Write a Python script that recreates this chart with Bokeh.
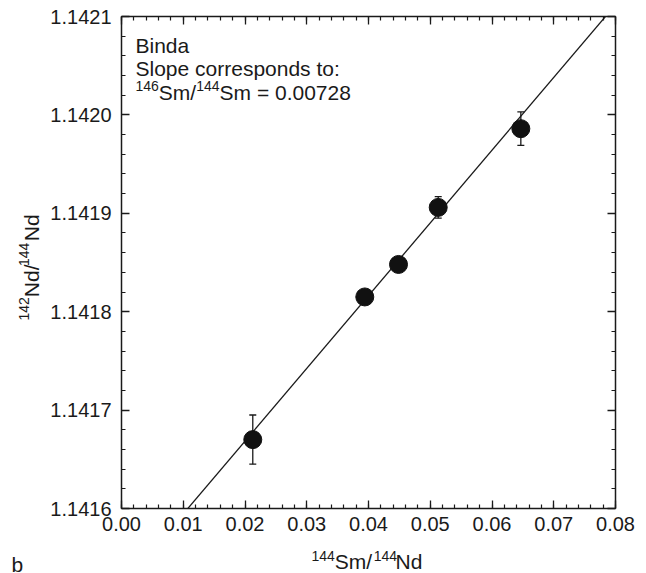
import math
from bokeh.plotting import figure
from bokeh.models import (Range1d, FixedTicker, PrintfTickFormatter, LinearAxis, Label,
                          Whisker, ColumnDataSource, TeeHead, CustomJSTickFormatter)
from bokeh.embed import file_html
from bokeh.resources import INLINE

# ---- data ----
sm_nd = [0.02126, 0.03940, 0.04486, 0.05129, 0.06467]          # 144Sm/144Nd
nd_nd = [1.141670, 1.141815, 1.141848, 1.141906, 1.141986]     # 142Nd/144Nd
nd_err = [0.000025, 0.000007, 0.000006, 0.000011, 0.000017]
fit_slope = 0.007392
fit_intercept = 1.1415206
x_ticks = [0.00, 0.01, 0.02, 0.03, 0.04, 0.05, 0.06, 0.07, 0.08]
y_ticks = [1.1416, 1.1417, 1.1418, 1.1419, 1.1420, 1.1421]

FONT = "Liberation Sans"
INK = "#1a1a1a"
NB = "\u00a0"

x_minor = [round(x_ticks[0] + i * 0.002, 4) for i in range(41)]
y_minor = [round(y_ticks[0] + i * 0.00002, 6) for i in range(26)]

p = figure(width=646, height=573, output_backend="svg", toolbar_location=None,
           x_range=Range1d(x_ticks[0], x_ticks[-1]), y_range=Range1d(y_ticks[0], y_ticks[-1]),
           x_axis_location=None, y_axis_location=None,
           min_border_left=121, min_border_right=31, min_border_top=15, min_border_bottom=65)
p.grid.visible = False
p.outline_line_color = None
p.background_fill_color = "white"
p.border_fill_color = "white"

def make_axis(is_x, labelled):
    ax = LinearAxis()
    ax.ticker = FixedTicker(ticks=x_ticks if is_x else y_ticks,
                            minor_ticks=x_minor if is_x else y_minor)
    ax.major_tick_in = 8
    ax.major_tick_out = 0
    ax.minor_tick_in = 4
    ax.minor_tick_out = 0
    ax.axis_line_color = INK
    ax.axis_line_width = 1.5
    ax.major_tick_line_color = INK
    ax.major_tick_line_width = 1.3
    ax.minor_tick_line_color = INK
    ax.minor_tick_line_width = 1.2
    if labelled:
        ax.formatter = PrintfTickFormatter(format="%.2f" if is_x else "%.4f")
        ax.major_label_text_font = FONT
        ax.major_label_text_font_size = "20px"
        ax.major_label_text_color = INK
        ax.major_label_standoff = 8 if is_x else 10
    else:
        ax.formatter = CustomJSTickFormatter(code="return ''")
        ax.major_label_text_font_size = "0px"
        ax.major_label_text_color = None
        ax.major_label_standoff = 0
    return ax

p.add_layout(make_axis(True, True), "below")
p.add_layout(make_axis(False, True), "left")
p.add_layout(make_axis(True, False), "above")
p.add_layout(make_axis(False, False), "right")

# regression line
fx = [x_ticks[0], x_ticks[-1]]
fy = [fit_intercept + fit_slope * v for v in fx]
p.line(fx, fy, line_color=INK, line_width=1.3)

# error bars
src = ColumnDataSource(dict(x=sm_nd, y=nd_nd,
                            lo=[a - b for a, b in zip(nd_nd, nd_err)],
                            hi=[a + b for a, b in zip(nd_nd, nd_err)]))
w = Whisker(base="x", lower="lo", upper="hi", source=src, dimension="height",
            line_color=INK, line_width=1.3,
            upper_head=TeeHead(size=7, line_color=INK, line_width=1.3),
            lower_head=TeeHead(size=7, line_color=INK, line_width=1.3))
p.add_layout(w)

p.scatter("x", "y", source=src, size=18, fill_color="#111111", line_color="#111111")

# ---- text helpers ----
W = {"0": .556, "1": .556, "2": .556, "3": .556, "4": .556, "5": .556, "6": .556,
     "7": .556, "8": .556, "9": .556, ".": .278, "S": .667, "m": .833, "/": .278,
     "N": .722, "d": .556, " ": .278, "=": .584, NB: .278}

def tw(s, size):
    return sum(W.get(c, .556) for c in s) * size

def lab(x, y, txt, size, angle=0.0, place=None):
    l = Label(x=x, y=y, x_units="screen", y_units="screen", text=txt,
              text_font=FONT, text_font_size=f"{size}px", text_color=INK,
              text_baseline="alphabetic", text_align="left", angle=angle)
    if place:
        p.add_layout(l, place)
    else:
        p.add_layout(l)

def rich(segs, x0, y0, size, sup_size, rise):
    pos = 0.0
    for txt, sup in segs:
        fs = sup_size if sup else size
        lab(x0 + pos, y0 + (rise if sup else 0), txt, fs)
        pos += tw(txt, fs)

# in-plot annotation
lab(14, 463, "Binda", 21)
lab(14, 440, "Slope corresponds to:", 21)
rich([("146", True), ("Sm/", False), ("144", True), ("Sm = 0.00728", False)],
     14, 416, 21, 14, 7)

SUP, MAIN = 14, 21
gap_sup = NB * 4          # room for a 3-digit superscript in the 21px row
gap_main = NB * 8         # room for "Nd/" in the 14px row

# x axis title: main row in the bottom panel, superscript row in the top panel
x_start = 190.0
lab(x_start + tw("144", SUP), -5, "Sm/" + gap_sup + "Nd", MAIN, place="below")
lab(x_start, -539, "144" + NB * 10 + "144", SUP, place="above")

# y axis title: two rotated rows in the left panel
y_start = 188.0
lab(7, y_start + tw("142", SUP), "Nd/" + gap_sup + "Nd", MAIN, angle=math.pi / 2, place="left")
lab(15, y_start, "142" + gap_main + "144", SUP, angle=math.pi / 2, place="left")

# panel letter
lab(-604, -56, "b", 21, place="right")

open("out.html", "w").write(file_html(p, INLINE))
